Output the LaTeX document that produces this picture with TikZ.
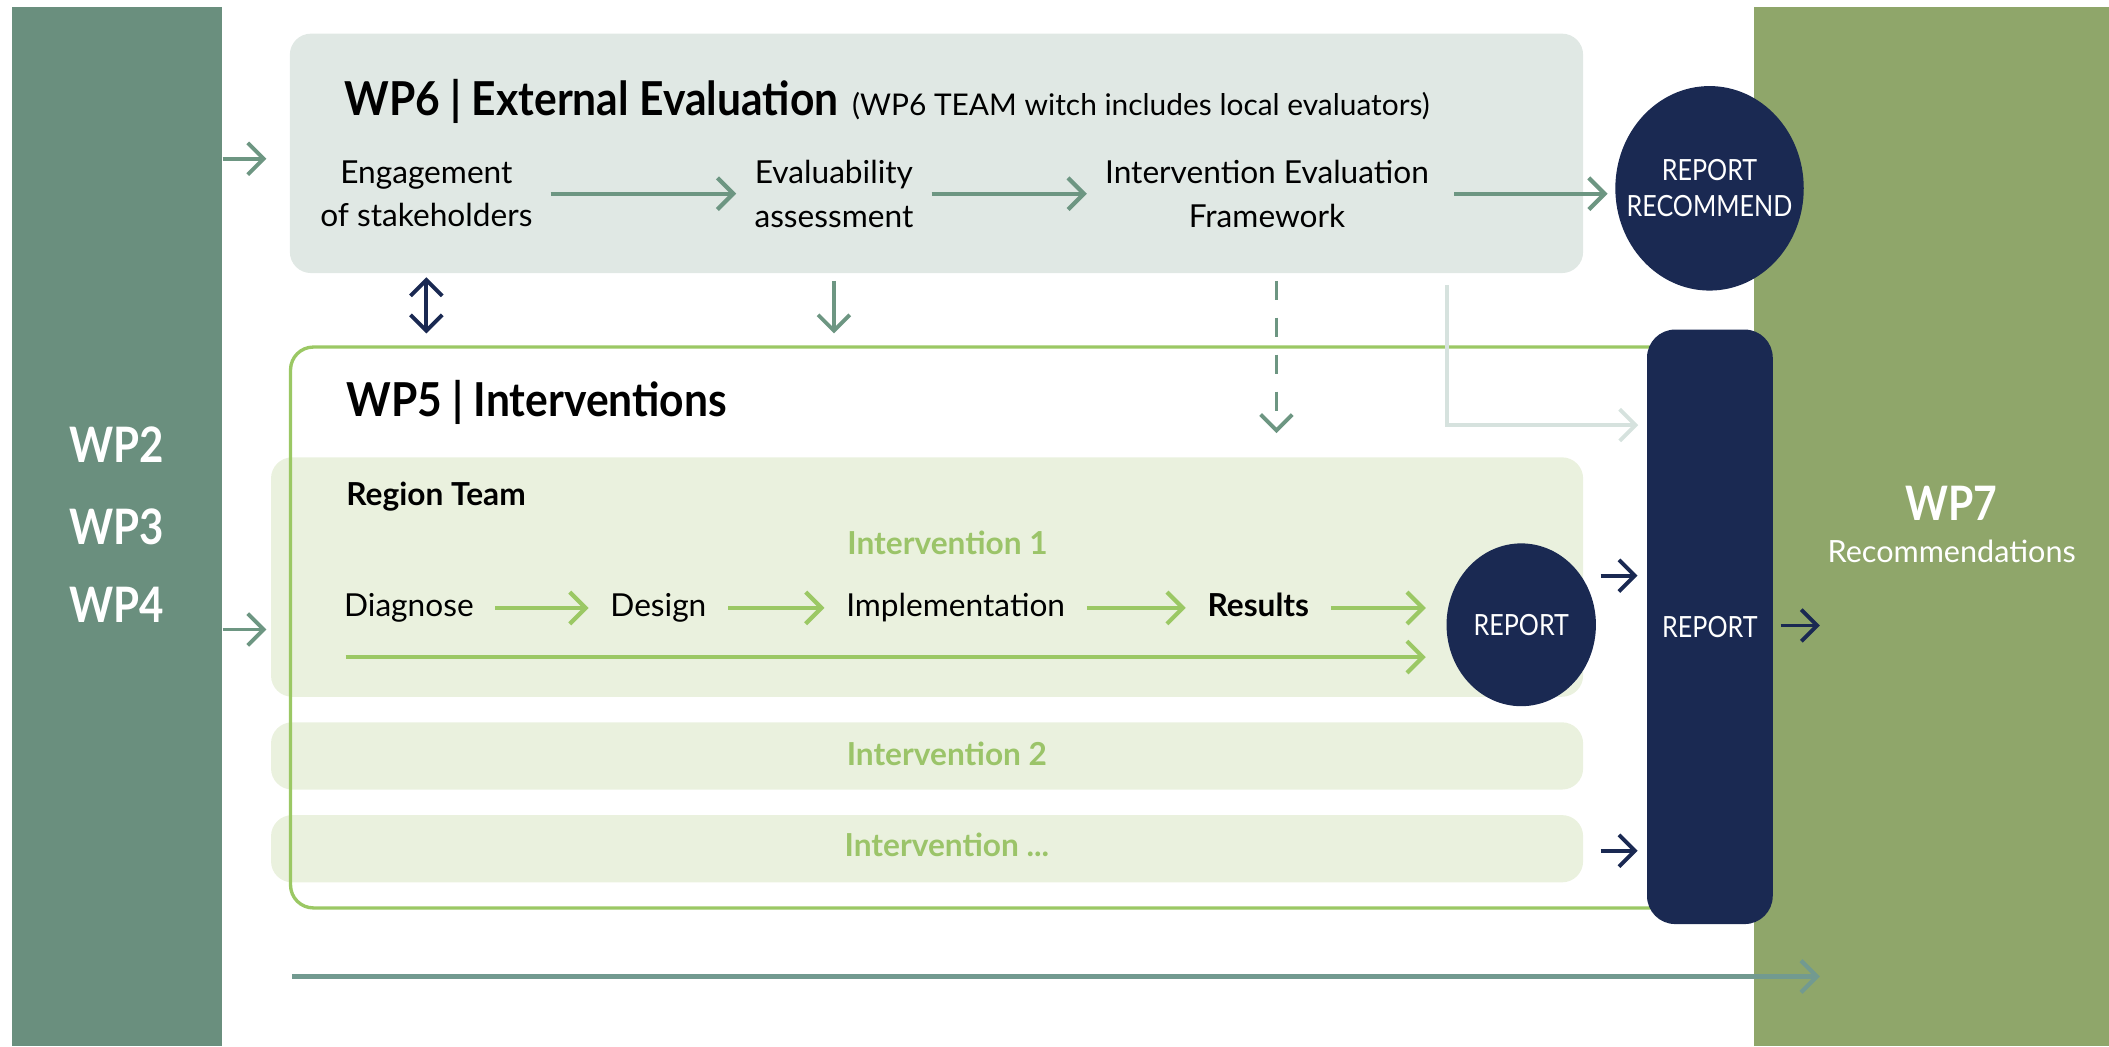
\documentclass[tikz,border=0pt]{standalone}
\usepackage{fontspec}
\setmainfont{Lato}
\newfontfamily\narrowfont[FakeStretch=0.86]{Lato}
\newfontfamily\titlefont[FakeStretch=0.91]{Lato}
\usetikzlibrary{arrows.meta,positioning,fit,shapes.geometric}

\definecolor{wpgrey}{HTML}{6A8F7E}
\definecolor{wpolive}{HTML}{8FA66A}
\definecolor{evalfill}{HTML}{E0E8E4}
\definecolor{evalline}{HTML}{6D9682}
\definecolor{navy}{HTML}{1A2952}
\definecolor{intline}{HTML}{9BC864}
\definecolor{inttext}{HTML}{9BC469}
\definecolor{intfill}{HTML}{EAF1DE}
\definecolor{ghost}{HTML}{D6E2DE}
\definecolor{flowline}{HTML}{729A90}

\tikzset{
  barb/.style={-{Straight Barb[length=4.5pt,width=9pt]}},
  evalarrow/.style={barb, draw=evalline, line width=1.2pt},
  steparrow/.style={barb, draw=intline, line width=1.2pt},
  navyarrow/.style={barb, draw=navy, line width=1.1pt},
  panel/.style={inner sep=0pt, rounded corners=6pt},
  evalnode/.style={align=center, inner xsep=5pt, font=\fontsize{9}{12.4}\selectfont},
  stepnode/.style={inner xsep=6pt, inner ysep=0pt, text height=7pt, text depth=2pt},
  bigtitle/.style={anchor=base west, inner sep=0pt, font=\titlefont\bfseries\fontsize{13.3}{16}\selectfont},
  inttitle/.style={anchor=base, inner sep=0pt, text=inttext, font=\bfseries\fontsize{9}{11}\selectfont},
  reportlabel/.style={text=white, inner sep=0pt, font=\narrowfont\fontsize{8.3}{10.3}\selectfont},
  reportdisc/.style={ellipse, fill=navy, inner sep=0pt},
}

\begin{document}
\begin{tikzpicture}[x=0.01345cm, y=-0.01345cm, font=\fontsize{9}{12}\selectfont]
\useasboundingbox (0,0) rectangle (1568,778);

% Side bands
\node[fit={(9,5) (165,778)}, inner sep=0pt, fill=wpgrey] (leftband) {};
\node[fit={(1304,5) (1568,778)}, inner sep=0pt, fill=wpolive] (rightband) {};
\foreach \n/\y in {2/344, 3/404.5, 4/462.5} {
    \node[anchor=base, inner sep=0pt, text=white, font=\narrowfont\bfseries\fontsize{13.9}{16}\selectfont] (wp\n) at (87,\y) {WP\n};
}
\node[anchor=base, inner sep=0pt, text=white, font=\narrowfont\bfseries\fontsize{13.5}{16}\selectfont] (wp7) at (1451,387) {WP7};
\node[anchor=base, inner sep=0pt, text=white, font=\fontsize{8.7}{10}\selectfont] (wp7text) at (1451,418) {Recommendations};

% WP6 panel
\node[fit={(215.5,25) (1177,203)}, panel, fill=evalfill] (wp6) {};
\node[bigtitle] (wp6title) at (255.5,85.5) {WP6 | External Evaluation};
\node[anchor=base west, inner sep=0pt, font=\fontsize{8.5}{10}\selectfont] (wp6team) at (633,85.5) {(WP6 TEAM witch includes local evaluators)};
\node[evalnode] (engage) at (317,144) {Engagement\\of stakeholders};
\node[evalnode] (evalab) at (620,144) {Evaluability\\assessment};
\node[evalnode] (iefw) at (942,144) {Intervention Evaluation\\Framework};

% Intervention rows
\node[fit={(201.5,340) (1177,518)}, panel, fill=intfill] (region) {};
\node[fit={(201.5,537) (1177,587)}, panel, fill=intfill] (int2box) {};
\node[fit={(201.5,606) (1177,656)}, panel, fill=intfill] (int3box) {};

% WP5 frame (right side runs under the report bar)
\node[fit={(216,258) (1262,675)}, inner sep=0pt, draw=intline, line width=0.95pt, rounded corners=6.5pt] (wp5) {};
\node[bigtitle] (wp5title) at (257,310) {WP5 | Interventions};
\node[anchor=base west, inner sep=0pt, font=\bfseries\fontsize{9}{11}\selectfont] (team) at (257,376) {Region Team};
\node[inttitle] (int1) at (704.5,412) {Intervention 1};
\node[inttitle] (int2) at (704,569) {Intervention 2};
\node[inttitle] (int3) at (704,637) {Intervention ...};

\node[stepnode] (diag) at (304,452) {Diagnose};
\node[stepnode] (design) at (489.5,452) {Design};
\node[stepnode] (impl) at (710.5,452) {Implementation};
\node[stepnode, font=\bfseries\fontsize{9}{11}\selectfont] (results) at (935.5,452) {Results};

% Feedback line to the report bar
\coordinate (ghosttop) at (1076,212);
\coordinate (ghostend) at (1218,316);
\draw[barb, draw=ghost, line width=1.1pt] (ghosttop) |- (ghostend);

% Reports
\node[fit={(1224.5,245) (1318,687)}, inner sep=0pt, fill=navy, rounded corners=8pt] (repbar) {};
\node[reportlabel] (repbartext) at (repbar.center) {REPORT};
\node[reportdisc, minimum width=1.883cm, minimum height=2.044cm] (reprec) at (1271,140) {};
\node[reportlabel, align=center] (reprectext) at (reprec) {REPORT\\RECOMMEND};
\node[reportdisc, minimum width=1.493cm, minimum height=1.627cm] (rep1) at (1131,464.5) {};
\node[reportlabel] (rep1text) at (rep1) {REPORT};

% WP6 flow
\draw[evalarrow] (engage) -- (evalab);
\draw[evalarrow] (evalab) -- (iefw);
\draw[evalarrow, shorten <=2pt, shorten >=2pt] (iefw.east) -- (iefw.east -| reprec.west);

% inputs from WP2-WP4
\coordinate (wp6in) at (198,118);
\coordinate (regin) at (198,468);
\draw[evalarrow, line width=1.1pt] (leftband.east |- wp6in) -- (wp6in);
\draw[evalarrow, line width=1.1pt] (leftband.east |- regin) -- (regin);

% WP6 to WP5
\draw[{Straight Barb[length=4.5pt,width=9pt]}-{Straight Barb[length=4.5pt,width=9pt]}, draw=navy, line width=1.1pt, shorten <=1pt, shorten >=3.4pt] (wp6.south -| engage) -- (wp5.north -| engage);
\draw[evalarrow, line width=1.1pt, shorten <=2pt, shorten >=3.4pt] (wp6.south -| evalab) -- (wp5.north -| evalab);
\coordinate (dashend) at (949,322);
\draw[evalarrow, line width=1.1pt, dash pattern=on 5.5pt off 5pt, shorten <=2pt] (wp6.south -| dashend) -- (dashend);

% Intervention 1 flow
\draw[steparrow] (diag) -- (design);
\draw[steparrow] (design) -- (impl);
\draw[steparrow] (impl) -- (results);
\draw[steparrow, shorten >=5.7pt] (results) -- (results -| rep1.west);
\coordinate (longstart) at (257,488.5);
\draw[steparrow, shorten >=5.7pt] (longstart) -- (longstart -| rep1.west);

% into and out of the report bar
\coordinate (navya) at (1190,428);
\coordinate (navyb) at (1190,632.5);
\coordinate (wp7in) at (1353,465);
\draw[navyarrow, shorten >=2.5pt] (navya) -- (navya -| repbar.west);
\draw[navyarrow, shorten >=2.5pt] (navyb) -- (navyb -| repbar.west);
\draw[navyarrow, shorten <=2pt] (repbar.east |- wp7in) -- (wp7in);

% bottom flow to WP7
\coordinate (botstart) at (217,726);
\coordinate (botend) at (1353,726);
\draw[barb, draw=flowline, line width=1.2pt] (botstart) -- (botend);

\end{tikzpicture}
\end{document}
